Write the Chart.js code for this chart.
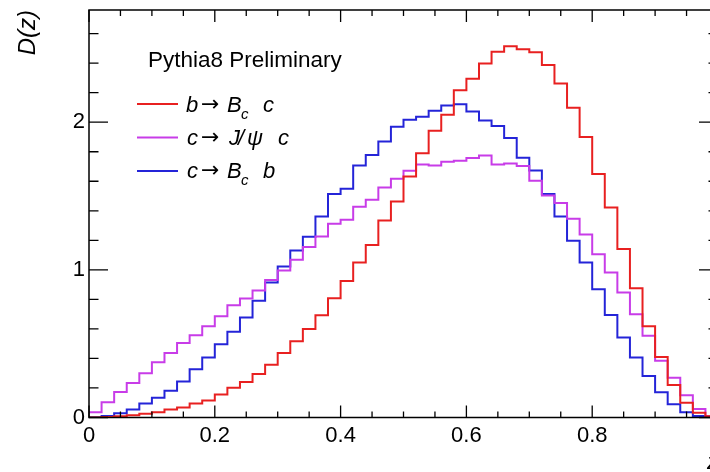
<!DOCTYPE html>
<html>
<head>
<meta charset="utf-8">
<script src="https://cdn.jsdelivr.net/npm/chart.js@4"></script>
<style>
html,body{margin:0;padding:0;background:#fff;overflow:hidden;}
canvas{display:block;}
</style>
</head>
<body>
<canvas id="c" width="730" height="472"></canvas>
<script>
// bin edges (50 bins of width 0.02)
const binEdges = [0,0.02,0.04,0.06,0.08,0.10,0.12,0.14,0.16,0.18,0.20,0.22,0.24,0.26,0.28,0.30,0.32,0.34,0.36,0.38,0.40,0.42,0.44,0.46,0.48,0.50,0.52,0.54,0.56,0.58,0.60,0.62,0.64,0.66,0.68,0.70,0.72,0.74,0.76,0.78,0.80,0.82,0.84,0.86,0.88,0.90,0.92,0.94,0.96,0.98,1.00];

const bToBc_c = [0.0,0.003,0.008,0.015,0.025,0.036,0.054,0.068,0.095,0.115,0.156,0.201,0.24,0.294,0.358,0.437,0.516,0.6,0.692,0.808,0.925,1.05,1.169,1.334,1.463,1.633,1.789,1.942,2.051,2.216,2.295,2.397,2.478,2.514,2.494,2.473,2.388,2.263,2.098,1.9,1.649,1.422,1.142,0.876,0.618,0.41,0.22,0.1,0.033,0.008];
const cToJpsi_c = [0.035,0.103,0.173,0.234,0.30,0.374,0.437,0.505,0.557,0.618,0.686,0.76,0.806,0.86,0.932,0.995,1.068,1.154,1.226,1.312,1.339,1.427,1.475,1.558,1.617,1.671,1.714,1.707,1.732,1.739,1.757,1.775,1.714,1.721,1.703,1.603,1.504,1.452,1.346,1.24,1.106,0.982,0.846,0.7,0.553,0.385,0.27,0.15,0.058,0.01];
const cToBc_b = [0.0,0.01,0.028,0.055,0.094,0.134,0.182,0.243,0.327,0.406,0.496,0.58,0.677,0.79,0.914,1.022,1.131,1.225,1.361,1.513,1.549,1.707,1.778,1.87,1.97,2.017,2.037,2.078,2.114,2.121,2.073,2.012,1.974,1.893,1.759,1.673,1.513,1.361,1.197,1.05,0.869,0.695,0.541,0.406,0.281,0.171,0.09,0.035,0.01,0.003];

const xTickLabels = [0,0.2,0.4,0.6,0.8];
const yTickLabels = [0,1,2];
const legendHeader = 'Pythia8 Preliminary';

const RED = '#e82020', MAG = '#c83ce8', BLUE = '#2424d8';

function toPoints(vals){
  const pts = vals.map((v,i)=>({x:binEdges[i], y:v}));
  pts.push({x:binEdges[vals.length], y:vals[vals.length-1]});
  return pts;
}

const FONT = '"Liberation Sans", Arial, Helvetica, sans-serif';

const rootPlugin = {
  id:'rootFrame',
  afterDraw(chart){
    const ctx = chart.ctx;
    const xs = chart.scales.x, ys = chart.scales.y;
    const L = xs.left, R = xs.right, T = ys.top, B = ys.bottom;
    ctx.save();
    ctx.strokeStyle = '#000';
    ctx.lineWidth = 1.5;
    ctx.beginPath();
    ctx.rect(L, T, R-L, B-T);
    ctx.stroke();
    ctx.lineWidth = 1.3;
    ctx.beginPath();
    for(let k=0;k<=20;k++){
      const v = k*0.05;
      const px = xs.getPixelForValue(v);
      const len = (k%4===0)?12:6;
      ctx.moveTo(px,B); ctx.lineTo(px,B-len);
      ctx.moveTo(px,T); ctx.lineTo(px,T+len);
    }
    for(let k=0;k*0.2<=ys.max+1e-9;k++){
      const v = k*0.2;
      const py = ys.getPixelForValue(v);
      const len = (k%5===0)?19:9.5;
      ctx.moveTo(L,py); ctx.lineTo(L+len,py);
      ctx.moveTo(R,py); ctx.lineTo(R-len,py);
    }
    ctx.stroke();

    // legend
    ctx.fillStyle = '#000';
    ctx.textBaseline = 'alphabetic';
    ctx.textAlign = 'left';
    ctx.font = '22.5px ' + FONT;
    ctx.fillText(legendHeader, 148, 67);
    const items = [
      {color:RED, ly:104, by:111.5, parts:[['b',186,'i'],['→',201,'n'],['B',227,'i'],['c',241,'s'],['c',263,'i']]},
      {color:MAG, ly:137.5, by:144.5, parts:[['c',187,'i'],['→',201,'n'],['J',229,'i'],['/',238,'i'],['ψ',247,'i'],['c',278,'i']]},
      {color:BLUE, ly:171, by:178, parts:[['c',187,'i'],['→',201,'n'],['B',227,'i'],['c',241,'s'],['b',263,'i']]}
    ];
    items.forEach(it=>{
      ctx.strokeStyle = it.color;
      ctx.lineWidth = 2;
      ctx.beginPath(); ctx.moveTo(137,it.ly); ctx.lineTo(178,it.ly); ctx.stroke();
      it.parts.forEach(p=>{
        if(p[2]==='i'){ ctx.font='italic 22px '+FONT; ctx.fillText(p[0],p[1],it.by); }
        else if(p[2]==='s'){ ctx.font='italic 15px '+FONT; ctx.fillText(p[0],p[1],it.by+7); }
        else { ctx.font='22px "DejaVu Sans", '+FONT; ctx.fillText(p[0],p[1],it.by-1); }
      });
    });
    ctx.restore();
  }
};

const ds = (label, vals, color)=>({
  label, data: toPoints(vals), borderColor: color, backgroundColor: color,
  borderWidth: 2, stepped: 'before', pointRadius: 0, fill: false, tension: 0
});

new Chart(document.getElementById('c'), {
  type:'line',
  data:{ datasets:[
    ds('b→ B_c c', bToBc_c, RED),
    ds('c→ J/ψ c', cToJpsi_c, MAG),
    ds('c→ B_c b', cToBc_b, BLUE)
  ]},
  options:{
    responsive:false,
    animation:false,
    devicePixelRatio:1,
    layout:{padding:{top:10,right:12,left:0,bottom:0}},
    plugins:{legend:{display:false}, tooltip:{enabled:false}},
    scales:{
      x:{
        type:'linear', min:0, max:1,
        grid:{display:false, drawTicks:false},
        border:{display:false},
        afterBuildTicks(s){ s.ticks = xTickLabels.map(v=>({value:v})); },
        afterFit(s){ s.height = 54.5; s.paddingLeft = 0; s.paddingRight = 0; },
        ticks:{ color:'#000', padding:5, maxRotation:0, autoSkip:false,
          font:{family:FONT, size:22},
          callback:(v)=> v===0 ? '0' : Number(v).toFixed(1) },
        title:{ display:true, text:'z', align:'end', color:'#000',
          font:{family:FONT, size:22, style:'italic', lineHeight:0.8}, padding:{top:0,bottom:0} }
      },
      y:{
        type:'linear', min:0, max:2.76,
        grid:{display:false, drawTicks:false},
        border:{display:false},
        afterBuildTicks(s){ s.ticks = yTickLabels.map(v=>({value:v})); },
        afterFit(s){ s.width = 89; s.paddingTop = 0; s.paddingBottom = 0; },
        ticks:{ color:'#000', padding:4, autoSkip:false,
          font:{family:FONT, size:22},
          callback:(v)=> String(v) },
        title:{ display:true, text:'D(z)', align:'end', color:'#000',
          font:{family:FONT, size:24, style:'italic'}, padding:{top:14,bottom:0} }
      }
    }
  },
  plugins:[rootPlugin]
});
</script>
</body>
</html>
